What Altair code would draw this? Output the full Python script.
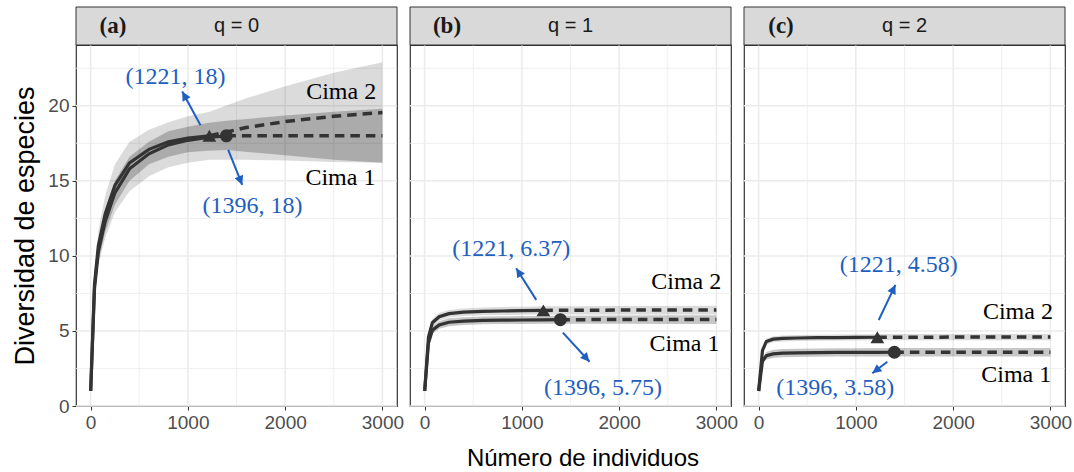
import math
import altair as alt
import pandas as pd

BLUE = "#1f5fbf"
DARK = "#333333"
GRID = "#ebebeb"
W, H = 321, 361
XDOM = [-150, 3150]
YDOM = [0, 24.05]
SX = W / (XDOM[1] - XDOM[0])
SY = H / (YDOM[1] - YDOM[0])

PANEL_TAGS = ["(a)", "(b)", "(c)"]
PANEL_Q = ["q = 0", "q = 1", "q = 2"]
SITE_1, SITE_2 = "Cima 1", "Cima 2"
N_OBS_1, N_OBS_2 = 1396, 1221

X_TICKS = [0, 1000, 2000, 3000]
X_MINOR = [500, 1500, 2500]
Y_TICKS = [0, 5, 10, 15, 20]
Y_MINOR = [2.5, 7.5, 12.5, 17.5, 22.5]

# sample sizes along the curves
N_INT_1 = [1, 40, 80, 150, 250, 400, 600, 800, 1000, 1200, 1396]
N_INT_2 = [1, 40, 80, 150, 250, 400, 600, 800, 1000, 1221]
N_EXT_1 = [1396, 2000, 2500, 3000]
N_EXT_2 = [1221, 1600, 2000, 2500, 3000]

# q = 0
Q0_INT_1 = [1, 7.8, 10.3, 12.3, 14.2, 15.8, 16.8, 17.4, 17.7, 17.9, 18.0]
Q0_INT_2 = [1, 8.1, 10.7, 12.8, 14.7, 16.2, 17.1, 17.6, 17.85, 18.0]
Q0_EXT_1 = [18.0, 18.0, 18.0, 18.0]
Q0_EXT_2 = [18.0, 18.55, 18.95, 19.3, 19.55]
# q = 1
Q1_INT_1 = [1, 4.2, 5.05, 5.4, 5.58, 5.66, 5.7, 5.72, 5.73, 5.74, 5.75]
Q1_INT_2 = [1, 4.6, 5.55, 5.95, 6.15, 6.25, 6.3, 6.33, 6.35, 6.37]
Q1_EXT_1 = [5.75, 5.76, 5.76, 5.77]
Q1_EXT_2 = [6.37, 6.38, 6.39, 6.4, 6.4]
# q = 2
Q2_INT_1 = [1, 3.0, 3.35, 3.47, 3.52, 3.54, 3.56, 3.57, 3.575, 3.578, 3.58]
Q2_INT_2 = [1, 3.7, 4.3, 4.45, 4.5, 4.53, 4.55, 4.56, 4.57, 4.58]
Q2_EXT_1 = [3.58, 3.58, 3.58, 3.58]
Q2_EXT_2 = [4.58, 4.58, 4.59, 4.59, 4.59]

# confidence bands
N_RIB_1 = [1, 40, 80, 150, 250, 400, 600, 800, 1000, 1200, 1396, 2000, 2500, 3000]
N_RIB_2 = [1, 40, 80, 150, 250, 400, 600, 800, 1000, 1221, 1600, 2000, 2500, 3000]
Q0_LO_1 = [1, 7.2, 9.6, 11.6, 13.4, 15.0, 16.1, 16.6, 16.9, 17.0, 17.05, 16.7, 16.4, 16.2]
Q0_HI_1 = [1, 8.4, 11.0, 13.1, 15.0, 16.6, 17.6, 18.3, 18.6, 18.85, 19.0, 19.35, 19.6, 19.8]
Q0_LO_2 = [1, 7.2, 9.4, 11.2, 12.9, 14.3, 15.3, 15.9, 16.2, 16.4, 16.4, 16.35, 16.25, 16.2]
Q0_HI_2 = [1, 8.9, 11.7, 14.0, 16.1, 17.6, 18.4, 18.9, 19.3, 19.6, 20.5, 21.3, 22.2, 22.9]
Q1_LO_1 = [1, 3.9, 4.8, 5.15, 5.32, 5.4, 5.44, 5.46, 5.47, 5.48, 5.48, 5.48, 5.47, 5.47]
Q1_HI_1 = [1, 4.5, 5.3, 5.65, 5.84, 5.92, 5.96, 5.98, 5.99, 6.0, 6.02, 6.03, 6.04, 6.05]
Q1_LO_2 = [1, 4.3, 5.3, 5.7, 5.9, 6.0, 6.04, 6.06, 6.08, 6.1, 6.1, 6.1, 6.1, 6.1]
Q1_HI_2 = [1, 4.9, 5.8, 6.2, 6.4, 6.5, 6.56, 6.6, 6.62, 6.64, 6.65, 6.66, 6.67, 6.68]
Q2_LO_1 = [1, 2.8, 3.1, 3.2, 3.25, 3.27, 3.28, 3.29, 3.3, 3.3, 3.3, 3.3, 3.3, 3.3]
Q2_HI_1 = [1, 3.2, 3.6, 3.74, 3.79, 3.81, 3.83, 3.84, 3.85, 3.86, 3.86, 3.86, 3.86, 3.86]
Q2_LO_2 = [1, 3.5, 4.1, 4.25, 4.3, 4.33, 4.35, 4.36, 4.37, 4.38, 4.38, 4.38, 4.38, 4.38]
Q2_HI_2 = [1, 3.9, 4.5, 4.65, 4.7, 4.73, 4.75, 4.76, 4.77, 4.79, 4.8, 4.8, 4.8, 4.8]

END_1 = [18.0, 5.75, 3.58]
END_2 = [18.0, 6.37, 4.58]

# annotations: [Cima 2 label, Cima 1 label] per panel
ANN_TEXT = [["(1221, 18)", "(1396, 18)"], ["(1221, 6.37)", "(1396, 5.75)"], ["(1221, 4.58)", "(1396, 3.58)"]]
ANN_X = [[873, 1664], [891, 1833], [1441, 788]]
ANN_Y = [[21.9, 13.3], [10.45, 1.18], [9.4, 1.18]]
ARR_X1 = [[1130, 1415], [1148, 1422], [1235, 1324]]
ARR_Y1 = [[18.7, 17.07], [7.07, 4.89], [5.73, 2.95]]
ARR_X2 = [[942, 1559], [942, 1696], [1407, 1169]]
ARR_Y2 = [[20.95, 14.73], [9.18, 2.95], [8.07, 2.18]]
SITE_LAB_X = [[2576, 2568], [2690, 2672], [2666, 2649]]
SITE_LAB_Y = [[20.95, 15.2], [8.29, 4.13], [6.29, 2.07]]

INT = [(Q0_INT_1, Q0_INT_2), (Q1_INT_1, Q1_INT_2), (Q2_INT_1, Q2_INT_2)]
EXT = [(Q0_EXT_1, Q0_EXT_2), (Q1_EXT_1, Q1_EXT_2), (Q2_EXT_1, Q2_EXT_2)]
RIB = [((Q0_LO_1, Q0_HI_1), (Q0_LO_2, Q0_HI_2)),
       ((Q1_LO_1, Q1_HI_1), (Q1_LO_2, Q1_HI_2)),
       ((Q2_LO_1, Q2_HI_1), (Q2_LO_2, Q2_HI_2))]

XS = alt.Scale(domain=XDOM, nice=False, zero=False)
YS = alt.Scale(domain=YDOM, nice=False, zero=False)


def x_axis(i):
    return alt.Axis(values=X_TICKS, format="d", grid=False, domain=False, ticks=True, tickSize=4,
                    tickColor=DARK, tickWidth=1, labelFontSize=19, labelColor="#4d4d4d",
                    labelPadding=3, labelFont="Liberation Sans",
                    title="Número de individuos" if i == 1 else "",
                    titleFont="Liberation Sans", titleFontSize=24, titleFontWeight="normal",
                    titleColor="black", titleX=W / 2 + 12, titleY=52, titleBaseline="middle")


def y_axis(i):
    if i == 0:
        return alt.Axis(values=Y_TICKS, format="d", grid=False, domain=False, ticks=True, tickSize=4,
                        tickColor=DARK, tickWidth=1, labelFontSize=19, labelColor="#4d4d4d",
                        labelPadding=3, labelFont="Liberation Sans",
                        title="Diversidad de especies", titleFont="Liberation Sans",
                        titleFontSize=27, titleFontWeight="normal", titleColor="black",
                        titleX=-51, titleY=H / 2, titleBaseline="middle", titleAlign="center")
    return alt.Axis(values=Y_TICKS, grid=False, domain=False, ticks=False, labels=False, title="")


def panel(i):
    xa, ya = x_axis(i), y_axis(i)

    def X(f):
        return alt.X(f, type="quantitative", scale=XS, axis=xa)

    def Y(f):
        return alt.Y(f, type="quantitative", scale=YS, axis=ya)

    layers = []
    layers.append(alt.Chart(pd.DataFrame({"v": X_MINOR})).mark_rule(color=GRID, strokeWidth=0.8).encode(x=X("v")))
    layers.append(alt.Chart(pd.DataFrame({"v": Y_MINOR})).mark_rule(color=GRID, strokeWidth=0.8).encode(y=Y("v")))
    layers.append(alt.Chart(pd.DataFrame({"v": X_TICKS})).mark_rule(color=GRID, strokeWidth=1.5).encode(x=X("v")))
    layers.append(alt.Chart(pd.DataFrame({"v": Y_TICKS})).mark_rule(color=GRID, strokeWidth=1.5).encode(y=Y("v")))

    (lo1, hi1), (lo2, hi2) = RIB[i]
    r2 = pd.DataFrame({"n": N_RIB_2, "lo": lo2, "hi": hi2})
    r1 = pd.DataFrame({"n": N_RIB_1, "lo": lo1, "hi": hi1})
    layers.append(alt.Chart(r2).mark_area(color="black", opacity=0.14).encode(x=X("n"), y=Y("lo"), y2="hi:Q"))
    layers.append(alt.Chart(r1).mark_area(color="black", opacity=0.22).encode(x=X("n"), y=Y("lo"), y2="hi:Q"))

    i1, i2 = INT[i]
    e1, e2 = EXT[i]
    dint = pd.DataFrame({"site": [SITE_1] * len(N_INT_1) + [SITE_2] * len(N_INT_2),
                         "n": N_INT_1 + N_INT_2, "D": i1 + i2})
    dext = pd.DataFrame({"site": [SITE_1] * len(N_EXT_1) + [SITE_2] * len(N_EXT_2),
                         "n": N_EXT_1 + N_EXT_2, "D": e1 + e2})
    layers.append(alt.Chart(dint).mark_line(color=DARK, strokeWidth=3.2).encode(
        x=X("n"), y=Y("D"), detail="site:N"))
    layers.append(alt.Chart(dext).mark_line(color=DARK, strokeWidth=3.5, strokeDash=[9.5, 6]).encode(
        x=X("n"), y=Y("D"), detail="site:N"))

    p2 = pd.DataFrame({"n": [N_OBS_2], "D": [END_2[i]]})
    p1 = pd.DataFrame({"n": [N_OBS_1], "D": [END_1[i]]})
    layers.append(alt.Chart(p2).mark_point(shape="triangle-up", filled=True, size=190, color=DARK, opacity=1).encode(x=X("n"), y=Y("D")))
    layers.append(alt.Chart(p1).mark_point(shape="circle", filled=True, size=170, color=DARK, opacity=1).encode(x=X("n"), y=Y("D")))

    sl = pd.DataFrame({"x": SITE_LAB_X[i], "y": SITE_LAB_Y[i], "t": [SITE_2, SITE_1]})
    layers.append(alt.Chart(sl).mark_text(font="Liberation Serif", fontSize=24, color="black",
                                          align="center", baseline="middle").encode(x=X("x"), y=Y("y"), text="t:N"))

    ang = []
    for k in range(2):
        dx = (ARR_X2[i][k] - ARR_X1[i][k]) * SX
        dyu = (ARR_Y2[i][k] - ARR_Y1[i][k]) * SY
        ang.append(math.degrees(math.atan2(dx, dyu)) % 360)
    ar = pd.DataFrame({"x1": ARR_X1[i], "y1": ARR_Y1[i], "x2": ARR_X2[i], "y2": ARR_Y2[i], "a": ang})
    layers.append(alt.Chart(ar).mark_rule(color=BLUE, strokeWidth=2).encode(
        x=X("x1"), y=Y("y1"), x2="x2:Q", y2="y2:Q"))
    layers.append(alt.Chart(ar).mark_point(shape="M0,0L-0.5,1L0.5,1Z", filled=True, size=330,
                                           color=BLUE, opacity=1).encode(
        x=X("x2"), y=Y("y2"), angle=alt.Angle("a:Q", scale=None)))

    an = pd.DataFrame({"x": ANN_X[i], "y": ANN_Y[i], "t": ANN_TEXT[i]})
    layers.append(alt.Chart(an).mark_text(font="Liberation Serif", fontSize=24, color=BLUE,
                                          align="center", baseline="middle").encode(x=X("x"), y=Y("y"), text="t:N"))

    one = pd.DataFrame({"k": [0]})
    layers.append(alt.Chart(one).mark_rect(fill="#d9d9d9", stroke=DARK, strokeWidth=1).encode(
        x=alt.value(0), x2=alt.value(W), y=alt.value(-38), y2=alt.value(0)))
    layers.append(alt.Chart(one).mark_text(text=PANEL_TAGS[i], font="Liberation Serif", fontWeight="bold",
                                           fontSize=23, color="#1a1a1a", align="center", baseline="middle").encode(
        x=alt.value(37), y=alt.value(-19)))
    layers.append(alt.Chart(one).mark_text(text=PANEL_Q[i], font="Liberation Sans",
                                           fontSize=20, color="#1a1a1a", align="center", baseline="middle").encode(
        x=alt.value(W / 2), y=alt.value(-19)))

    return alt.layer(*layers).properties(width=W, height=H)


chart = alt.hconcat(panel(0), panel(1), panel(2), spacing=13, bounds="flush").properties(
    autosize=alt.AutoSizeParams(type="none"),
    padding={"left": 76, "top": 45, "right": 998, "bottom": 427},
    background="white",
).configure_view(stroke=DARK, strokeWidth=1.2)

chart.save("out.html", embed_options={"renderer": "svg", "actions": False})
